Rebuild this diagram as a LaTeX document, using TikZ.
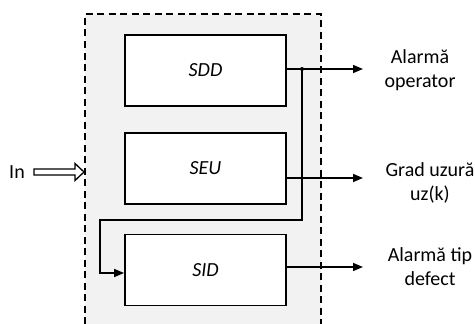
\documentclass[tikz,border=0pt]{standalone}
\usepackage{fontspec}
\setmainfont{Carlito}
\usetikzlibrary{arrows.meta}
\definecolor{panelgray}{HTML}{F2F2F2}
\tikzset{
  blk/.style={draw, line width=1.8pt, fill=white, minimum width=161pt, minimum height=71pt,
              inner sep=0pt, font=\fontsize{20}{24}\selectfont\itshape},
  wire/.style={line width=1.5pt},
  outarrow/.style={wire, -{Triangle[length=10pt,width=8pt]}},
  lbl/.style={align=center, inner sep=0pt, font=\fontsize{20}{24}\selectfont},
  frame/.style={line width=1.5pt, dash pattern=on 7pt off 4.5pt}
}
\begin{document}
\begin{tikzpicture}[x=1pt,y=-1pt]
  \useasboundingbox (0,0) rectangle (475,324);
  % system enclosure, open at the bottom
  \fill[panelgray] (85,14) rectangle (321,324);
  \draw[frame] (85,324) -- (85,14) -- (321,14) -- (321,324);

  % subsystems
  \node[blk] (sdd) at (205.5,70.5) {SDD};
  \node[blk] (seu) at (205.5,168.5) {SEU};
  \node[blk] (sid) at (205.5,270) {SID};

  % output labels
  \node[lbl] (l1) at (420,70) {Alarmă\\operator};
  \node[lbl] (l2) at (430,183) {Grad uzură\\uz(k)};
  \node[lbl] (l3) at (430,267) {Alarmă tip\\defect};
  \node[lbl] (lin) at (17,172) {In};

  % arrow end points and routing corners
  \coordinate (e1) at (363,69);
  \coordinate (e2) at (363,178);
  \coordinate (e3) at (363,267);
  \coordinate (j) at (302,69);
  \coordinate (c1) at (302,220);
  \coordinate (c2) at (100,220);
  \coordinate (c3) at (100,273);

  % outputs
  \draw[outarrow] ([yshift=1.5pt]sdd.east) -- (e1);
  \draw[outarrow] ([yshift=-9.5pt]seu.east) -- (e2);
  \draw[outarrow] ([yshift=3pt]sid.east) -- (e3);

  % feedback from SDD to SID
  \fill (j) circle (2pt);
  \draw[outarrow] (j) -- (c1) -- (c2) -- (c3) -- ([yshift=-3pt]sid.west);

  % hollow input arrow
  \draw[line width=1.3pt, fill=white]
    (34,169) -- (75,169) -- (75,163.5) -- (84,172) -- (75,180.5) -- (75,175) -- (34,175) -- cycle;
\end{tikzpicture}
\end{document}
